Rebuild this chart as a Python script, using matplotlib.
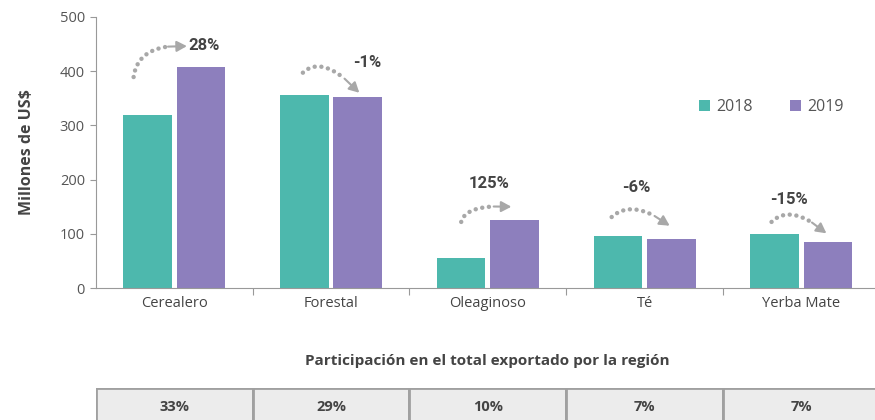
import numpy as np
import matplotlib
matplotlib.use("Agg")
import matplotlib.pyplot as plt

# data
categories = ["Cerealero", "Forestal", "Oleaginoso", "Té", "Yerba Mate"]
exp_2018 = [319, 356, 56, 96, 100]
exp_2019 = [408, 352, 126, 91, 85]
changes = ["28%", "-1%", "125%", "-6%", "-15%"]
shares = ["33%", "29%", "10%", "7%", "7%"]

# annotation layout (data units): arrow start, arrow end, label position
arrow_start = [(-0.26, 389), (0.82, 397), (1.83, 122), (2.79, 131), (3.81, 122)]
arrow_end = [(0.08, 446), (1.18, 360), (2.15, 150), (3.16, 115), (4.16, 101)]
label_pos = [(0.09, 448), (1.23, 415), (2.01, 193), (2.95, 185), (3.92, 163)]
label_ha = ["left", "center", "center", "center", "center"]

teal = "#4db8ad"
purple = "#8d7fbd"
grey = "#a8a8a8"
txt = "#444444"

plt.rcParams['font.family'] = ['Open Sans', 'DejaVu Sans']

fig = plt.figure(figsize=(8.75, 4.2), dpi=100)
ax = fig.add_axes([0.1097, 0.314, 0.8903, 0.646])

x = np.arange(len(categories))
w = 0.31
ax.bar(x - w / 2 - 0.015, exp_2018, w, color=teal, label="2018")
ax.bar(x + w / 2 + 0.015, exp_2019, w, color=purple, label="2019")

ax.set_xlim(-0.5, 4.47)
ax.set_ylim(0, 500)
ax.set_yticks([0, 100, 200, 300, 400, 500])
ax.set_xticks(x)
ax.set_xticklabels(categories)
ax.set_xticks(np.arange(0.5, 4.5, 1), minor=True)
ax.tick_params(axis="x", which="major", length=0, pad=6, labelsize=10.5, colors="#444")
ax.tick_params(axis="x", which="minor", length=5, color="#999", width=0.8)
ax.tick_params(axis="y", length=4, color="#999", width=0.8, labelsize=10.5, labelcolor="#555", pad=4)
for s in ["top", "right"]:
    ax.spines[s].set_visible(False)
for s in ["left", "bottom"]:
    ax.spines[s].set_color("#999")
    ax.spines[s].set_linewidth(0.8)
ax.set_ylabel("Millones de US$", fontsize=11.5, fontweight="bold", color=txt, labelpad=18)

leg = ax.legend(loc="center right", bbox_to_anchor=(0.97, 0.668), ncol=2, frameon=False,
                fontsize=11.5, handlelength=0.7, handleheight=0.7, handletextpad=0.4,
                columnspacing=2.3, borderpad=0)
for t in leg.get_texts():
    t.set_color("#555")

# dotted curved arrows
for (xs, ys), (xe, ye), (lx, ly), ha, lab in zip(arrow_start, arrow_end, label_pos, label_ha, changes):
    if ye > ys:
        cx, cy = xs + 0.03, ye + 5
    else:
        cx, cy = (xs + xe) / 2 - 0.05, max(ys, ye) + 35
    t = np.linspace(0, 1, 80)
    bx = (1 - t) ** 2 * xs + 2 * (1 - t) * t * cx + t ** 2 * xe
    by = (1 - t) ** 2 * ys + 2 * (1 - t) * t * cy + t ** 2 * ye
    k = 62
    ax.plot(bx[:k], by[:k], color=grey, lw=3.2, linestyle=(0, (0.01, 1.5)),
            dash_capstyle="round", solid_capstyle="round")
    ax.annotate("", xy=(bx[-1], by[-1]), xytext=(bx[k], by[k]),
                arrowprops=dict(arrowstyle="-|>,head_length=0.6,head_width=0.32",
                                color=grey, lw=1.5, shrinkA=0, shrinkB=0))
    ax.text(lx, ly, lab, ha=ha, va="center", fontsize=12, fontweight="bold",
            color=txt, family=["Roboto", "DejaVu Sans"])

# table with share of regional exports
fig.text(0.557, 0.14, "Participación en el total exportado por la región",
         ha="center", va="center", fontsize=11, fontweight="bold", color=txt)
tax = fig.add_axes([0.1097, -0.05, 0.8903, 0.05 + 32 / 420])
tax.set_xlim(-0.5, 4.47)
tax.set_ylim(0, 1)
tax.bar(x, [1] * len(x), 1.0, color="#ececec", edgecolor="#a0a0a0", linewidth=2.0)
tax.axhline(1, color="#a0a0a0", lw=1.5)
for i, s in enumerate(shares):
    tax.text(i, 0.64, s, ha="center", va="center", fontsize=10.5, fontweight="bold", color=txt)
tax.axis("off")

fig.savefig("out.png", dpi=100)
